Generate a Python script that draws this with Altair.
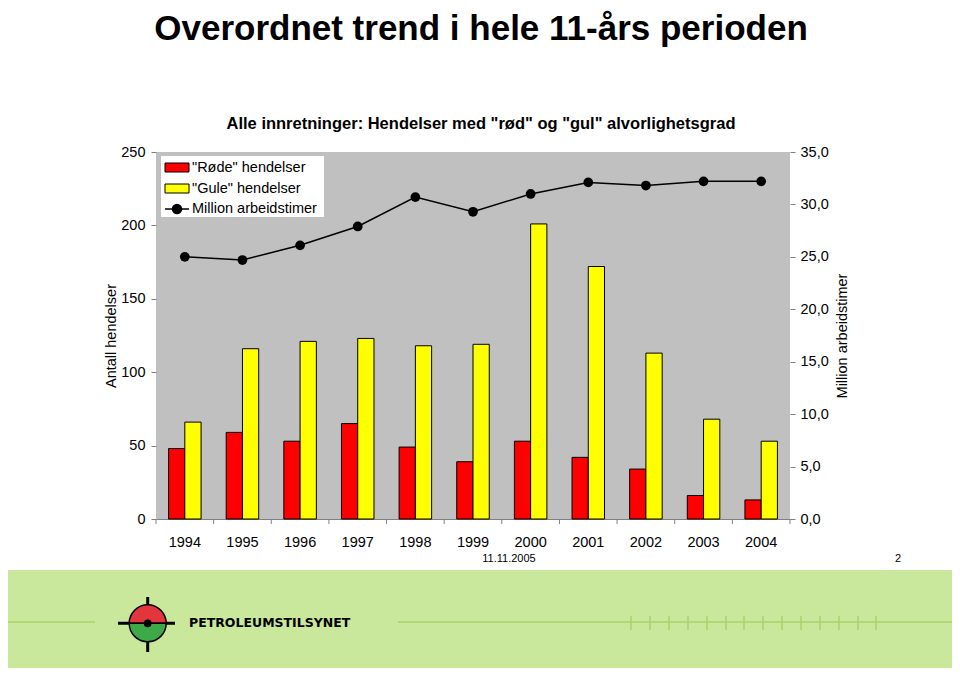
import altair as alt
import pandas as pd

# ---------------- data ----------------
years = [str(y) for y in range(1994, 2005)]
rode = [48, 59, 53, 65, 49, 39, 53, 42, 34, 16, 13]
gule = [66, 116, 121, 123, 118, 119, 201, 172, 113, 68, 53]
timer = [25.0, 24.7, 26.1, 27.9, 30.7, 29.3, 31.0, 32.1, 31.8, 32.2, 32.2]
series_names = ['"Røde" hendelser', '"Gule" hendelser', 'Million arbeidstimer']
series_colors = ['#ff0000', '#ffff00', '#000000']
left_ticks = [0, 50, 100, 150, 200, 250]
right_ticks = [0, 5, 10, 15, 20, 25, 30, 35]

title_text = "Overordnet trend i hele 11-års perioden"
subtitle_text = 'Alle innretninger: Hendelser med "rød" og "gul" alvorlighetsgrad'
left_title = "Antall hendelser"
right_title = "Million arbeidstimer"
date_text = "11.11.2005"
page_text = "2"
logo_text = "PETROLEUMSTILSYNET"

# ---------------- layout (plot area at page x=156, y=152) ----------------
W, H = 634, 367
PAD = {"left": 148, "top": 144, "right": 162, "bottom": 149}
FONT = "Liberation Sans"

bar_df = pd.DataFrame({
    "year": years * 2,
    "serie": [series_names[0]] * len(years) + [series_names[1]] * len(years),
    "value": rode + gule,
})
line_df = pd.DataFrame({"year": years, "timer": timer})

x_enc = alt.X(
    "year:N", sort=years,
    scale=alt.Scale(paddingInner=0.436, paddingOuter=0.218),
    axis=alt.Axis(title=None, labelAngle=0, ticks=False, domainColor="#808080",
                  labelPadding=16, labelFontSize=14.5, labelFont=FONT, labelColor="black"),
)

bars = alt.Chart(bar_df).mark_bar(stroke="black", strokeWidth=1).encode(
    x=x_enc,
    xOffset=alt.XOffset("serie:N", sort=series_names[:2],
                        scale=alt.Scale(domain=series_names[:2], paddingInner=0, paddingOuter=0)),
    y=alt.Y("value:Q", scale=alt.Scale(domain=[0, 250], nice=False),
            axis=alt.Axis(title=left_title, values=left_ticks, grid=False, domain=False,
                          tickSize=5, tickColor="#808080", labelPadding=6, titlePadding=2,
                          labelFontSize=14.5, titleFontSize=14.5, labelFont=FONT, titleFont=FONT,
                          titleFontWeight="normal", labelColor="black", titleColor="black")),
    color=alt.Color("serie:N", scale=alt.Scale(domain=series_names[:2], range=series_colors[:2]),
                    legend=None),
)

line = alt.Chart(line_df).mark_line(
    color="black", strokeWidth=1.5,
    point=alt.OverlayMarkDef(filled=True, fill="black", color="black", size=95),
).encode(
    x=alt.X("year:N", sort=years),
    y=alt.Y("timer:Q", scale=alt.Scale(domain=[0, 35], nice=False),
            axis=alt.Axis(title=right_title, orient="right", values=right_ticks, grid=False,
                          domain=False, tickSize=5, tickColor="#808080", labelPadding=5,
                          titlePadding=7, titleAngle=270, titleBaseline="top",
                          labelExpr="replace(format(datum.value, '.1f'), '.', ',')",
                          labelFontSize=14.5, titleFontSize=14.5, labelFont=FONT, titleFont=FONT,
                          titleFontWeight="normal", labelColor="black", titleColor="black")),
)

# category boundary ticks on the x axis
tick_df = pd.DataFrame({"year": years})
step = W / len(years)
xticks = alt.Chart(tick_df).mark_rule(color="#808080", xOffset=-step / 2).encode(
    x=alt.X("year:N", sort=years), y=alt.value(H), y2=alt.value(H + 5))
xtick_last = alt.Chart(pd.DataFrame({"year": [years[-1]]})).mark_rule(
    color="#808080", xOffset=step / 2).encode(
    x=alt.X("year:N", sort=years), y=alt.value(H), y2=alt.value(H + 5))

one = pd.DataFrame({"t": [0]})


def text_layer(txt, x, y, size, weight="normal", align="center", font=FONT, baseline="alphabetic"):
    return alt.Chart(pd.DataFrame({"t": [txt]})).mark_text(
        fontSize=size, fontWeight=weight, align=align, font=font, baseline=baseline,
        color="black").encode(text="t:N", x=alt.value(x), y=alt.value(y))


def rect_layer(x, x2, y, y2, fill, stroke=None, sw=0):
    kw = dict(fill=fill)
    if stroke:
        kw.update(stroke=stroke, strokeWidth=sw)
    return alt.Chart(one).mark_rect(**kw).encode(
        x=alt.value(x), x2=alt.value(x2), y=alt.value(y), y2=alt.value(y2))


def rule_layer(x, x2, y, y2, color, sw):
    return alt.Chart(one).mark_rule(color=color, strokeWidth=sw).encode(
        x=alt.value(x), x2=alt.value(x2), y=alt.value(y), y2=alt.value(y2))


# titles
title_l = text_layer(title_text, 325, -112, 35, "bold",
                     font="Liberation Sans Narrow, Arial Narrow, Liberation Sans")
subtitle_l = text_layer(subtitle_text, 325, -23, 16.5, "bold")

# legend (manual)
legend_layers = [
    rect_layer(5, 168, 4, 65, "white"),
    rect_layer(9, 33, 11, 20, series_colors[0], "black", 1),
    rect_layer(9, 33, 32, 41, series_colors[1], "black", 1),
    rule_layer(9, 33, 57, 57, "black", 1.5),
    alt.Chart(one).mark_point(filled=True, color="black", size=110, opacity=1).encode(
        x=alt.value(21), y=alt.value(57)),
    text_layer(series_names[0], 36, 15.5, 14.5, align="left", baseline="middle"),
    text_layer(series_names[1], 36, 36.5, 14.5, align="left", baseline="middle"),
    text_layer(series_names[2], 36, 57, 14.5, align="left", baseline="middle"),
]

# footer
footer_layers = [
    text_layer(date_text, 353, 410, 11),
    text_layer(page_text, 742, 410, 11),
    rect_layer(-148, W + PAD["right"], 418, H + PAD["bottom"], "#c9e89b"),
    rule_layer(-148, -61, 470, 470, "#a6d46a", 1.5),
    rule_layer(242, W + PAD["right"], 470, 470, "#a6d46a", 1.5),
]
comb_x = [631, 650, 669, 688, 707, 726, 744, 763, 782, 801, 820, 839, 858, 876]
footer_layers += [rule_layer(px - 156, px - 156, 464, 478, "#a6d46a", 1.5) for px in comb_x]

# logo
lx, ly = -8.3, 471.3
logo_layers = [
    rule_layer(lx, lx, 445, 500, "black", 3),
    rule_layer(-38, 19, ly, ly, "black", 3),
    alt.Chart(one).mark_arc(fill="#e2353c", stroke="black", strokeWidth=1.5).encode(
        x=alt.value(lx), y=alt.value(ly), theta=alt.value(4.712389), theta2=alt.value(7.853982),
        radius=alt.value(18.5)),
    alt.Chart(one).mark_arc(fill="#3daa48", stroke="black", strokeWidth=1.5).encode(
        x=alt.value(lx), y=alt.value(ly), theta=alt.value(1.570796), theta2=alt.value(4.712389),
        radius=alt.value(18.5)),
    alt.Chart(one).mark_point(filled=True, color="black", size=60, opacity=1).encode(
        x=alt.value(lx), y=alt.value(ly)),
    text_layer(logo_text, 33, ly, 12.5, "bold", align="left", font="DejaVu Sans", baseline="middle"),
]

chart = alt.layer(
    bars, line, xticks, xtick_last, title_l, subtitle_l,
    *legend_layers, *footer_layers, *logo_layers,
).resolve_scale(y="independent").properties(
    width=W, height=H,
    autosize=alt.AutoSizeParams(type="none"),
    padding=PAD,
    background="white",
).configure_view(fill="#c0c0c0", stroke=None)

chart.save("out.html", embed_options={"renderer": "svg", "actions": False})
